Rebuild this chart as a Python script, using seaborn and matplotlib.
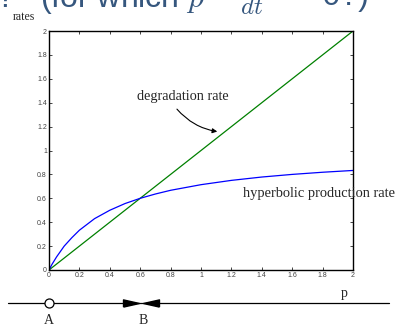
import numpy as np
import pandas as pd
import matplotlib
matplotlib.use("Agg")
import matplotlib.pyplot as plt
import seaborn as sns

# values
p_vals = [0.0, 0.02, 0.05, 0.1, 0.15, 0.2, 0.3, 0.4, 0.5, 0.6, 0.7, 0.8, 1.0, 1.2, 1.4, 1.6, 1.8, 2.0]
production = [0.0, 0.048, 0.11, 0.2, 0.27, 0.333, 0.43, 0.5, 0.556, 0.6, 0.636, 0.667, 0.714, 0.75, 0.778, 0.8, 0.818, 0.833]
degradation = [0.0, 0.02, 0.05, 0.1, 0.15, 0.2, 0.3, 0.4, 0.5, 0.6, 0.7, 0.8, 1.0, 1.2, 1.4, 1.6, 1.8, 2.0]
ticks = [0, 0.2, 0.4, 0.6, 0.8, 1, 1.2, 1.4, 1.6, 1.8, 2]
tick_labels = ["0", "0.2", "0.4", "0.6", "0.8", "1", "1.2", "1.4", "1.6", "1.8", "2"]
point_A = 0.0
point_B = 0.6

sns.set_theme(style="white")
plt.rcParams["font.family"] = ["Liberation Serif", "DejaVu Serif"]
plt.rcParams["mathtext.fontset"] = "cm"

df = pd.DataFrame({"p": p_vals, "production": production, "degradation": degradation})

W, H = 398, 326
fig = plt.figure(figsize=(W / 100, H / 100), dpi=100)
ax = fig.add_axes([49 / W, 1 - 270 / H, 304 / W, 239 / H])

sns.lineplot(data=df, x="p", y="degradation", color="green", linewidth=0.9, ax=ax)
sns.lineplot(data=df, x="p", y="production", color="blue", linewidth=0.9, ax=ax)
ax.set_xlim(0, 2)
ax.set_ylim(0, 2)
ax.set_xticks(ticks)
ax.set_xticklabels(tick_labels)
ax.set_yticks(ticks)
ax.set_yticklabels(tick_labels)
ax.set_xlabel("")
ax.set_ylabel("")
for lab in ax.get_xticklabels() + ax.get_yticklabels():
    lab.set_fontfamily("Liberation Sans")
    lab.set_fontsize(5)
    lab.set_color("#444444")
ax.tick_params(direction="in", length=2.5, width=0.6, pad=1.5, top=True, right=True,
               bottom=True, left=True, labeltop=False, labelright=False)
for s in ax.spines.values():
    s.set_color("black")
    s.set_linewidth(1.0)

ax.text(-0.24, 2.12, "rates", fontsize=8.5, ha="left", va="center")
ax.text(0.58, 1.45, "degradation rate", fontsize=10.3, ha="left", va="center")
ax.annotate("", xy=(1.125, 1.155), xytext=(0.83, 1.364),
            arrowprops=dict(arrowstyle="-|>", color="black", lw=0.8,
                            connectionstyle="arc3,rad=0.2", mutation_scale=7))
ax.text(1.276, 0.64, "hyperbolic production rate", fontsize=10.4, ha="left", va="center")

# number line below
ax2 = fig.add_axes([49 / W, 0, 304 / W, 1 - 270 / H])
ax2.set_xlim(0, 2)
ax2.set_ylim(0, 56)
ax2.axis("off")
yl = 326 - 303
right_tri = [(-1, -0.45), (1, 0), (-1, 0.45), (-1, -0.45)]
left_tri = [(1, -0.45), (-1, 0), (1, 0.45), (1, -0.45)]
ax2.plot([-0.27, 2.24], [yl, yl], color="black", lw=0.9, clip_on=False)
ax2.plot([point_A], [yl], marker="o", ms=6.5, mfc="white", mec="black", mew=0.9, clip_on=False)
ax2.plot([point_B - 0.063], [yl], marker=right_tri, ms=11.5, color="black", clip_on=False)
ax2.plot([point_B + 0.07], [yl], marker=left_tri, ms=11.5, color="black", clip_on=False)
ax2.text(point_A, yl - 17, "A", fontsize=10, ha="center", va="center")
ax2.text(point_B + 0.02, yl - 17, "B", fontsize=10, ha="center", va="center")
ax2.text(1.94, yl + 10, "p", fontsize=10, ha="center", va="center")

# title cut off at the top of the image
title_color = "#36577e"
base = 1 - 7 / H
fig.text(-3 / W, base, "?", fontsize=23, color=title_color, ha="left",
         va="baseline", fontfamily=["Liberation Sans"])
fig.text(40 / W, base, r"(for which $p$", fontsize=23, color=title_color,
         ha="left", va="baseline", fontfamily=["Liberation Sans"])
fig.text(240 / W, 1 - 14 / H, r"$dt$", fontsize=18, color=title_color,
         ha="left", va="baseline")
fig.text(295 / W, 1 - 5 / H, "= 0?)", fontsize=23, color=title_color,
         ha="left", va="baseline", fontfamily=["Liberation Sans"])

fig.savefig("out.png", dpi=100)
